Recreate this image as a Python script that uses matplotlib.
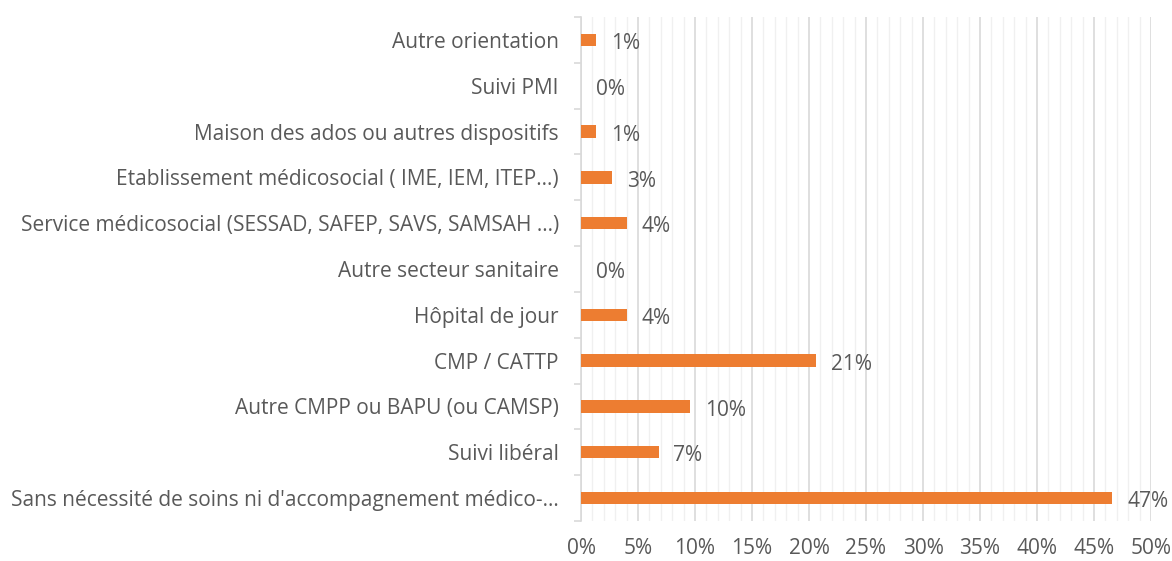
import matplotlib
matplotlib.use("Agg")
import matplotlib.pyplot as plt
from matplotlib.ticker import MultipleLocator, PercentFormatter

categories = [
    "Sans nécessité de soins ni d'accompagnement médico-...",
    "Suivi libéral",
    "Autre CMPP ou BAPU (ou CAMSP)",
    "CMP / CATTP",
    "Hôpital de jour",
    "Autre secteur sanitaire",
    "Service médicosocial (SESSAD, SAFEP, SAVS, SAMSAH ...)",
    "Etablissement médicosocial ( IME, IEM, ITEP...)",
    "Maison des ados ou autres dispositifs",
    "Suivi PMI",
    "Autre orientation",
]
values = [46.6, 6.8, 9.6, 20.6, 4.0, 0.0, 4.0, 2.7, 1.3, 0.0, 1.3]
x_ticks = list(range(0, 51, 5))

TEXT = "#595959"
ORANGE = "#ED7D31"

plt.rcParams["font.family"] = ["Open Sans", "DejaVu Sans"]

fig = plt.figure(figsize=(11.72, 5.61), dpi=100)
ax = fig.add_axes([581 / 1172, 1 - 521 / 561, (1151 - 581) / 1172, (521 - 17) / 561])

y = range(len(categories))
ax.barh(y, values, height=0.27, color=ORANGE, zorder=3)
for yi, v in zip(y, values):
    ax.text(v + 1.3, yi - 0.08, f"{v:.0f}%", va="center", ha="left",
            fontsize=15, color=TEXT, zorder=4)

ax.set_xlim(0, 50)
ax.set_ylim(-0.5, len(categories) - 0.5)
ax.set_xticks(x_ticks)
ax.xaxis.set_major_formatter(PercentFormatter(decimals=0))
ax.xaxis.set_minor_locator(MultipleLocator(1))
ax.grid(axis="x", which="major", color="#D9D9D9", linewidth=1.2, zorder=0)
ax.grid(axis="x", which="minor", color="#F0F0F0", linewidth=1.0, zorder=0)
ax.tick_params(axis="x", which="both", length=0, labelsize=15,
               labelcolor=TEXT, pad=12)

ax.set_yticks(list(y))
ax.set_yticklabels(categories)
ax.set_yticks([i + 0.5 for i in range(-1, len(categories))], minor=True)
ax.tick_params(axis="y", which="major", length=0, labelsize=15,
               labelcolor=TEXT, pad=16)
ax.tick_params(axis="y", which="minor", length=5, color="#D9D9D9", width=1.2)

for side in ["top", "right", "bottom"]:
    ax.spines[side].set_visible(False)
ax.spines["left"].set_color("#D9D9D9")
ax.spines["left"].set_linewidth(1.2)

fig.savefig("out.png", dpi=100)
